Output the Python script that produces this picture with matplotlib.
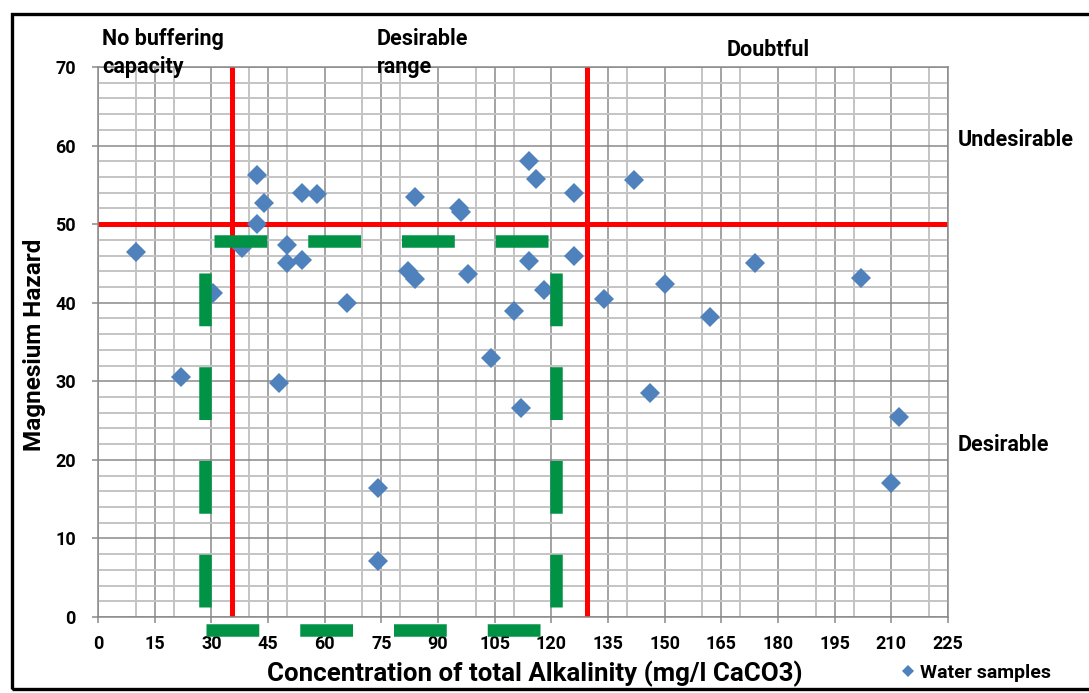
"""Magnesium hazard vs total alkalinity scatter, with guide lines and zones."""
import matplotlib
matplotlib.use("Agg")
import matplotlib.pyplot as plt
from matplotlib.patches import Rectangle
from matplotlib.ticker import MultipleLocator

plt.rcParams["font.family"] = ["Roboto", "DejaVu Sans"]
plt.rcParams["font.weight"] = "bold"
plt.rcParams["lines.scale_dashes"] = False

# water samples: total alkalinity (mg/l CaCO3) and magnesium hazard
alkalinity = [10, 22, 30.4, 42, 44, 42, 38, 50, 50, 54, 54, 58, 48, 66, 74, 74,
              84, 82, 84, 95.5, 96, 98, 104, 110, 112, 114, 116, 114, 118, 126,
              126, 134, 142, 146, 150, 162, 174, 202, 210, 212]
mg_hazard = [46.5, 30.5, 41.2, 56.3, 52.7, 50.0, 47.0, 47.4, 45.1, 45.5, 54.0,
             53.8, 29.8, 40.0, 16.4, 7.1, 53.5, 44.0, 43.0, 52.0, 51.5, 43.6,
             33.0, 39.0, 26.6, 58.0, 55.8, 45.3, 41.6, 54.0, 46.0, 40.5, 55.6,
             28.5, 42.4, 38.2, 45.0, 43.1, 17.0, 25.5]

# limits used for the classification lines
alk_low, alk_high = 35.5, 129.5
mg_limit = 50

# desirable-range box (dashed outline)
box_left, box_right = 28.4, 121.2
box_bottom, box_top = -1.6, 47.8

W, H = 1089, 693
fig = plt.figure(figsize=(W / 100, H / 100), dpi=100)
ax = fig.add_axes([98 / W, (H - 617) / H, 850 / W, 550 / H])

major_grey = "#8a8a8a"
minor_grey = "#c4c4c4"
ax.set_xlim(0, 225)
ax.set_ylim(0, 70)
ax.xaxis.set_major_locator(MultipleLocator(15))
ax.xaxis.set_minor_locator(MultipleLocator(10))
ax.yaxis.set_major_locator(MultipleLocator(10))
ax.yaxis.set_minor_locator(MultipleLocator(2))
ax.grid(which="minor", color=minor_grey, linewidth=1.4, zorder=0)
ax.grid(which="major", color=major_grey, linewidth=1.1, zorder=0)
ax.set_axisbelow(True)
for sp in ax.spines.values():
    sp.set_color(major_grey)
    sp.set_linewidth(1.1)
ax.tick_params(which="major", length=4, width=1.1, color=major_grey,
               labelsize=13, pad=9)
ax.tick_params(axis="y", pad=12)
ax.tick_params(which="minor", length=0)

red = "#ff0000"
ax.axvline(alk_low, color=red, linewidth=3.6, zorder=2)
ax.axvline(alk_high, color=red, linewidth=3.6, zorder=2)
ax.axhline(mg_limit, color=red, linewidth=3.6, zorder=2)

ax.plot(alkalinity, mg_hazard, linestyle="none", marker="D", markersize=10,
        color="#4f81bd", markeredgewidth=0, zorder=3, label="Water samples")

green = "#009245"
dash = (38, 29.5)
box_kw = dict(color=green, linewidth=9, dashes=dash, clip_on=False, zorder=4,
              solid_capstyle="butt", dash_capstyle="butt")
ax.plot([box_left, box_left], [1.3, box_top], **box_kw)
ax.plot([box_right, box_right], [1.3, box_top], **box_kw)
ax.plot([30.7, box_right], [box_top, box_top], **box_kw)
ax.plot([28.6, box_right], [box_bottom, box_bottom], **box_kw)

# zone captions
txt = dict(fontsize=15.5, fontweight="bold", color="black")
fig.text(102 / W, 1 - 53 / H, "No buffering\ncapacity", va="center",
         linespacing=1.3, **txt)
fig.text(377 / W, 1 - 53 / H, "Desirable\nrange", va="center",
         linespacing=1.3, **txt)
fig.text(727 / W, 1 - 50 / H, "Doubtful", va="center", **txt)
fig.text(958 / W, 1 - 140 / H, "Undesirable", va="center", **txt)
fig.text(958 / W, 1 - 445 / H, "Desirable", va="center", **txt)

fig.text(535 / W, 1 - 674 / H, "Concentration of total Alkalinity (mg/l CaCO3)",
         ha="center", va="center", fontsize=18.6, fontweight="bold")
fig.text(35 / W, 1 - 345 / H, "Magnesium Hazard", rotation=90,
         ha="center", va="center", fontsize=17.5, fontweight="bold")

fig.legend(loc="center", bbox_to_anchor=(976 / W, 1 - 673 / H), frameon=False,
           markerscale=0.6, handlelength=0.7, handletextpad=0.3,
           prop=dict(size=14, weight="bold"))

# outer frame of the chart area
fig.patches.append(Rectangle((12.5 / W, 1 - 689 / H), 1.2, (689 - 14) / H,
                             transform=fig.transFigure, fill=False,
                             edgecolor="black", linewidth=2.4))

fig.savefig("out.png", dpi=100)
